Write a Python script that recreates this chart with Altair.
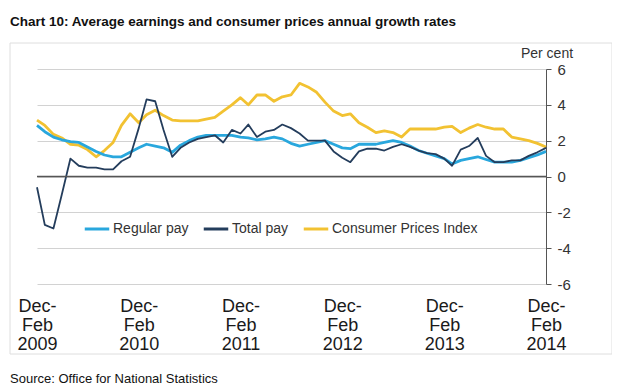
import altair as alt
import pandas as pd

# Periods: Dec-Feb 2009 ... Dec-Feb 2014 (monthly, 3-month periods ending in the given month)
months = pd.date_range("2009-02-01", "2014-02-01", freq="MS").strftime("%Y-%m-%d").tolist()

series_names = ["Regular pay", "Total pay", "Consumer Prices Index"]
series_colors = ["#29a7dd", "#243d5c", "#f2c232"]

regular_pay = [2.85, 2.5, 2.2, 2.05, 1.95, 1.9, 1.65, 1.4, 1.2, 1.1, 1.1, 1.35, 1.6, 1.8, 1.7,
               1.6, 1.35, 1.75, 2.0, 2.2, 2.3, 2.3, 2.3, 2.3, 2.2, 2.15, 2.05, 2.1, 2.2, 2.1,
               1.85, 1.7, 1.8, 1.9, 2.0, 1.8, 1.6, 1.55, 1.8, 1.8, 1.8, 1.9, 2.0, 1.9, 1.7,
               1.45, 1.3, 1.15, 1.0, 0.7, 0.9, 1.0, 1.1, 0.95, 0.8, 0.8, 0.8, 0.9, 1.05, 1.2, 1.4]

total_pay = [-0.6, -2.7, -2.9, -1.0, 1.0, 0.6, 0.5, 0.5, 0.4, 0.4, 0.85, 1.1, 2.7, 4.3, 4.2,
             2.6, 1.1, 1.6, 1.9, 2.1, 2.2, 2.3, 1.9, 2.6, 2.4, 2.9, 2.2, 2.5, 2.6, 2.9,
             2.7, 2.4, 2.0, 2.0, 2.0, 1.4, 1.05, 0.8, 1.4, 1.55, 1.55, 1.45, 1.65, 1.8, 1.65,
             1.45, 1.3, 1.25, 1.0, 0.6, 1.5, 1.7, 2.15, 1.15, 0.8, 0.8, 0.9, 0.9, 1.15, 1.35, 1.6]

cpi = [3.15, 2.85, 2.35, 2.15, 1.8, 1.75, 1.5, 1.1, 1.45, 1.9, 2.85, 3.5, 3.0, 3.45, 3.7,
       3.4, 3.15, 3.1, 3.1, 3.1, 3.2, 3.3, 3.65, 4.0, 4.4, 4.0, 4.55, 4.55, 4.2, 4.45,
       4.55, 5.2, 5.0, 4.7, 4.15, 3.65, 3.4, 3.5, 3.0, 2.75, 2.45, 2.55, 2.45, 2.2, 2.65,
       2.65, 2.65, 2.65, 2.75, 2.8, 2.45, 2.7, 2.9, 2.75, 2.65, 2.65, 2.2, 2.1, 2.0, 1.85, 1.65]

y_ticks = [-6, -4, -2, 0, 2, 4, 6]
x_tick_years = [2009, 2010, 2011, 2012, 2013, 2014]

FONT = "Liberation Sans"

rows = []
for name, vals in zip(series_names, [regular_pay, total_pay, cpi]):
    for m, v in zip(months, vals):
        rows.append({"period": m, "series": name, "value": v})
df = pd.DataFrame(rows)

x_enc = alt.X(
    "period:T",
    scale=alt.Scale(type="utc", domain=[months[0], months[-1]], nice=False),
    axis=alt.Axis(
        values=[alt.DateTime(year=y, month=2, date=1, utc=True) for y in x_tick_years],
        labelExpr="['Dec-', 'Feb', utcFormat(datum.value, '%Y')]",
        grid=False, domain=False, ticks=False,
        labelFont=FONT, labelFontSize=18, labelColor="#1a1a1a",
        labelLineHeight=19, labelBaseline="top", labelPadding=13,
        labelAlign="center", labelOverlap=False, labelFlush=False,
        title=None,
    ),
)
y_scale = alt.Scale(domain=[-6, 6], nice=False)
y_axis = alt.Axis(
    orient="right", values=y_ticks, grid=True, gridColor="#d2d2d2", gridWidth=1,
    domainColor="#555555", tickColor="#555555", tickSize=5,
    labelExpr="'' + datum.value", labelOverlap=False, labelFlush=False,
    labelFont=FONT, labelFontSize=15, labelColor="#333333", labelPadding=6,
    title=None,
)
y_enc = alt.Y("value:Q", scale=y_scale, axis=y_axis)
color_enc = alt.Color(
    "series:N",
    scale=alt.Scale(domain=series_names, range=series_colors),
    legend=alt.Legend(
        title=None, orient="none", legendX=46, legendY=146, direction="horizontal",
        symbolType="stroke", symbolSize=600, symbolStrokeWidth=3,
        labelFont=FONT, labelFontSize=14, labelColor="#333333",
        labelOffset=2, columnPadding=8,
    ),
)

base = alt.Chart(df)

def series_layer(name, width):
    return base.transform_filter(alt.datum.series == name).mark_line(
        strokeWidth=width, strokeJoin="round"
    ).encode(x=x_enc, y=y_enc, color=color_enc)

one = pd.DataFrame({"a": [0]})

zero_rule = alt.Chart(pd.DataFrame({"value": [0]})).mark_rule(color="#555555", strokeWidth=1.3).encode(
    y=y_enc
)

frame = alt.Chart(one).mark_rect(fill=None, stroke="#dedede", strokeWidth=1).encode(
    x=alt.value(-27), x2=alt.value(575), y=alt.value(-26), y2=alt.value(285)
)

title_text = alt.Chart(one).mark_text(
    text="Chart 10: Average earnings and consumer prices annual growth rates",
    font=FONT, fontSize=13.5, fontWeight="bold", color="#111111", align="left", baseline="middle",
).encode(x=alt.value(-27), y=alt.value(-47))

per_cent = alt.Chart(one).mark_text(
    text="Per cent", font=FONT, fontSize=14, color="#333333", align="center", baseline="middle",
).encode(x=alt.value(510), y=alt.value(-15))

source_text = alt.Chart(one).mark_text(
    text="Source: Office for National Statistics",
    font=FONT, fontSize=13, color="#111111", align="left", baseline="middle",
).encode(x=alt.value(-27), y=alt.value(310))

chart = alt.layer(
    frame,
    series_layer("Consumer Prices Index", 2.8),
    series_layer("Regular pay", 2.8),
    series_layer("Total pay", 1.8),
    zero_rule,
    title_text,
    per_cent,
    source_text,
).properties(
    width=509,
    height=215,
    autosize="none",
    padding={"left": 29, "top": 61, "right": 66, "bottom": 103},
    background="white",
).configure_view(stroke=None).configure_axis(labelOverlap=False)

chart.save("out.html", embed_options={"renderer": "svg", "actions": False})
